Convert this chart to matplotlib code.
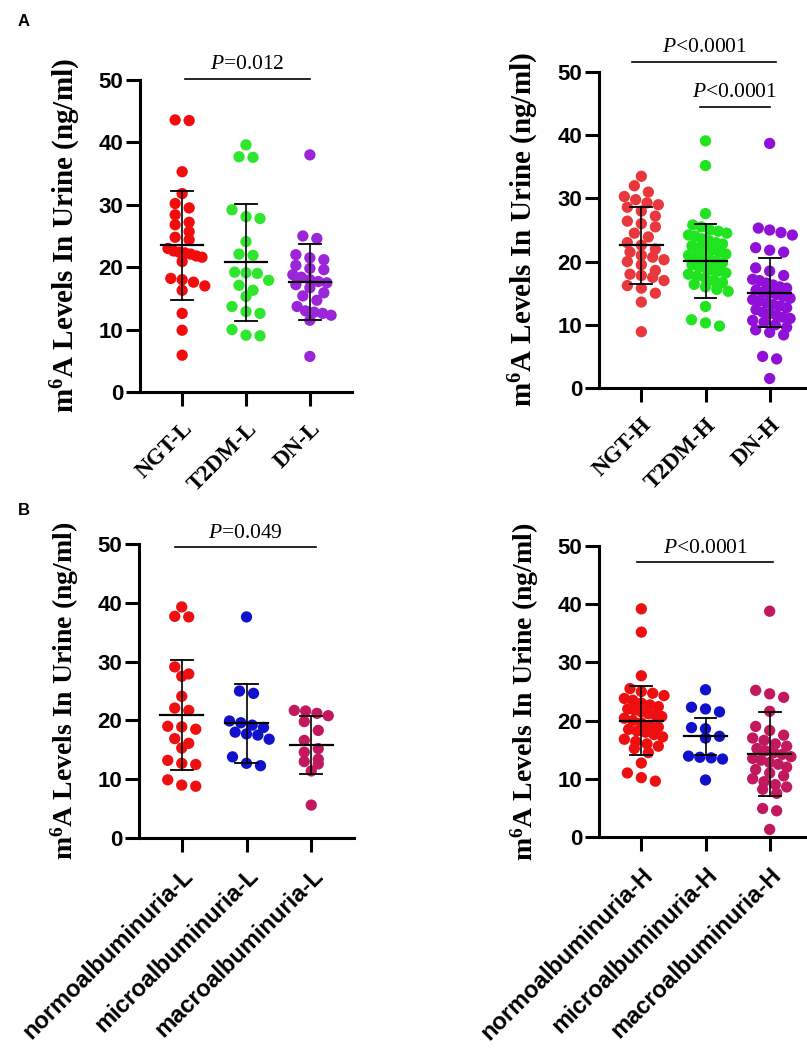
import numpy as np
import matplotlib
matplotlib.use('Agg')
import matplotlib.pyplot as plt

# m6A levels in urine (ng/ml)
# --- panel A, left: low group
A_L_LABELS = ['NGT-L', 'T2DM-L', 'DN-L']
NGT_L = [43.6, 43.5, 35.3, 31.8, 30.2, 29.5, 28.4, 27.2, 26.8, 25.7, 24.8, 24.4,
         23.0, 22.6, 22.4, 22.3, 22.1, 21.8, 21.6, 20.9, 18.2, 18.0, 17.6, 17.0,
         16.3, 12.6, 9.9, 5.9]
T2DM_L = [39.6, 37.7, 37.6, 29.2, 28.1, 27.8, 24.1, 22.1, 21.9, 19.2, 19.1, 19.0,
          17.9, 17.1, 16.3, 15.3, 13.7, 12.9, 12.6, 10.0, 9.1, 9.0]
DN_L = [38.0, 25.0, 24.6, 22.0, 21.5, 21.2, 20.3, 19.8, 19.6, 18.8, 18.4, 18.0,
        17.7, 17.5, 17.2, 16.7, 15.9, 15.4, 14.7, 13.7, 13.0, 12.8, 12.6, 12.3,
        11.5, 5.7]
A_L_MEAN = [23.5, 20.8, 17.6]
A_L_SD = [8.7, 9.4, 6.1]

# --- panel A, right: high group
A_H_LABELS = ['NGT-H', 'T2DM-H', 'DN-H']
NGT_H = [33.5, 32.0, 31.0, 30.3, 29.8, 29.3, 29.0, 28.6, 28.0, 27.2, 26.4, 26.0,
         25.5, 24.5, 23.9, 23.0, 22.6, 22.0, 21.5, 21.0, 20.7, 20.3, 20.0, 19.5,
         18.6, 18.0, 17.8, 17.5, 17.0, 16.2, 15.8, 15.0, 13.6, 8.9]
T2DM_H = [39.1, 35.2, 27.6, 25.8, 25.5, 25.0, 24.8, 24.5, 24.2, 24.0, 23.6, 23.3,
          23.0, 22.8, 22.5, 22.2, 22.0, 21.8, 21.5, 21.2, 21.0, 20.8, 20.5, 20.3,
          20.0, 19.8, 19.5, 19.2, 19.0, 18.7, 18.5, 18.2, 18.0, 17.7, 17.4, 17.0,
          16.7, 16.4, 16.0, 15.6, 15.3, 12.9, 10.8, 10.3, 9.8]
DN_H = [38.7, 25.3, 25.0, 24.6, 24.2, 22.2, 21.8, 21.5, 19.0, 18.5, 17.8, 17.2,
        17.0, 16.6, 16.3, 16.0, 15.8, 15.5, 15.2, 15.0, 14.8, 14.5, 14.2, 14.0,
        13.8, 13.5, 13.2, 13.0, 12.7, 12.4, 12.0, 11.8, 11.5, 11.2, 11.0, 10.7,
        10.4, 10.0, 9.6, 9.2, 8.8, 8.4, 5.0, 4.6, 1.5]
A_H_MEAN = [22.6, 20.1, 15.1]
A_H_SD = [6.1, 5.8, 5.5]

# --- panel B, left
B_L_LABELS = ['normoalbuminuria-L', 'microalbuminuria-L', 'macroalbuminuria-L']
NORMO_L = [39.3, 37.7, 37.6, 29.1, 27.9, 27.5, 24.1, 22.1, 21.7, 19.0, 18.9, 18.5,
           16.9, 16.1, 15.3, 13.2, 12.7, 12.5, 9.9, 9.0, 8.8]
MICRO_L = [37.6, 25.0, 24.6, 19.9, 19.6, 19.2, 18.8, 18.0, 17.7, 17.5, 16.8, 13.8,
           12.7, 12.3]
MACRO_L = [21.7, 21.6, 21.2, 20.8, 19.8, 18.3, 16.6, 15.2, 14.6, 13.4, 13.0, 12.6,
           11.4, 5.6]
B_L_MEAN = [20.9, 19.5, 15.8]
B_L_SD = [9.4, 6.7, 4.9]

# --- panel B, right
B_H_LABELS = ['normoalbuminuria-H', 'microalbuminuria-H', 'macroalbuminuria-H']
NORMO_H = [39.2, 35.2, 27.7, 25.5, 25.0, 24.7, 24.3, 23.8, 23.5, 23.0, 22.7, 22.4,
           22.0, 21.8, 21.5, 21.2, 21.0, 20.7, 20.4, 20.0, 19.6, 19.2, 18.9, 18.5,
           18.2, 18.0, 17.6, 17.2, 16.8, 16.4, 16.0, 15.6, 15.2, 14.5, 12.7, 11.0,
           10.2, 9.6]
MICRO_H = [25.3, 22.3, 22.0, 21.5, 18.8, 18.6, 17.3, 17.0, 13.9, 13.7, 13.6, 13.4, 9.8]
MACRO_H = [38.8, 25.2, 24.6, 24.0, 21.6, 19.0, 18.3, 17.5, 17.0, 16.6, 16.0, 15.6,
           15.2, 14.8, 14.5, 14.2, 13.8, 13.5, 13.2, 12.8, 12.5, 12.0, 11.6, 11.0,
           10.5, 10.0, 9.5, 9.0, 8.6, 8.2, 7.5, 4.9, 4.5, 1.3]
B_H_MEAN = [20.0, 17.3, 14.3]
B_H_SD = [5.9, 3.2, 7.2]

# comparison bars: (group from, group to, bar height, text)
A_L_PVALS = [(0.05, 2.0, 50.2, '$P$=0.012')]
A_H_PVALS = [(-0.14, 2.1, 51.6, '$P$<0.0001'), (0.91, 2.0, 44.5, '$P$<0.0001')]
B_L_PVALS = [(-0.1, 2.08, 49.5, '$P$=0.049')]
B_H_PVALS = [(-0.06, 2.05, 47.3, '$P$<0.0001')]

W, H = 807, 1059
YLABEL = 'm$^{6}$A Levels In Urine (ng/ml)'

plt.rcParams['mathtext.fontset'] = 'custom'
plt.rcParams['mathtext.rm'] = 'Liberation Serif:bold'
plt.rcParams['mathtext.bf'] = 'Liberation Serif:bold'
plt.rcParams['mathtext.it'] = 'Liberation Serif:italic'


def row_offsets(values, ppx, ppy, row_px=9.0, dx_px=14.0, max_px=34.0):
    """prism-like scatter: points close in value share a row, spread sideways"""
    values = np.asarray(values, dtype=float)
    order = np.argsort(values)[::-1]
    offs = np.zeros(len(values))
    rows = []
    for i in order:
        if rows and (values[rows[-1][0]] - values[i]) * ppy < row_px:
            rows[-1].append(i)
        else:
            rows.append([i])
    for k, row in enumerate(rows):
        n = len(row)
        if n == 1:
            continue
        dx = min(dx_px, max_px / (n - 1))
        # stagger crowded rows a little so they do not form a grid
        shift = 0.5 * dx if (n > 3 and k % 2) else 0.0
        for j, i in enumerate(row):
            offs[i] = ((j - (n - 1) / 2) * dx + shift) / ppx
    return offs


def panel(fig, box, groups, labels, means, sds, colors, pvals, tickfont, ylsize):
    left, top, right, bottom = box
    ax = fig.add_axes([left / W, 1 - bottom / H, (right - left) / W, (bottom - top) / H])
    ax.set_xlim(-0.66, 2.66)
    ax.set_ylim(0, 50)
    ppx = (right - left) / 3.32
    ppy = (bottom - top) / 50.0

    for i, (vals, c) in enumerate(zip(groups, colors)):
        off = row_offsets(vals, ppx, ppy)
        ax.scatter(i + off, vals, s=66, color=c, edgecolors='none', zorder=3,
                   clip_on=False)
        m, s = means[i], sds[i]
        ax.plot([i - 0.33, i + 0.33], [m, m], color='k', lw=1.6, zorder=4)
        ax.plot([i, i], [m - s, m + s], color='k', lw=1.2, zorder=4)
        for yy in (m - s, m + s):
            ax.plot([i - 0.17, i + 0.17], [yy, yy], color='k', lw=1.3, zorder=4)

    for x0, x1, yb, txt in pvals:
        ax.plot([x0, x1], [yb, yb], color='k', lw=1.2, clip_on=False)
        ax.text((x0 + x1) / 2, yb + 2.3, txt, ha='center', va='center',
                fontsize=15.5, family='Liberation Serif', clip_on=False)

    for sp in ['top', 'right']:
        ax.spines[sp].set_visible(False)
    for sp in ['left', 'bottom']:
        ax.spines[sp].set_linewidth(2.2)
    ax.set_yticks(range(0, 51, 10))
    ax.set_xticks(range(3))
    ax.tick_params(axis='both', length=10, width=2.2)
    ax.tick_params(axis='y', pad=2)
    ax.tick_params(axis='x', pad=9)
    for t in ax.get_yticklabels():
        t.set_fontsize(16)
        t.set_fontweight('bold')
        t.set_family('Liberation Sans')
    ax.set_xticklabels(labels, rotation=45, ha='right', rotation_mode='anchor',
                       **tickfont)
    ax.set_ylabel(YLABEL, fontsize=ylsize, fontweight='bold', family='Liberation Serif')
    ax.yaxis.set_label_coords(-0.27, 0.5)
    return ax


def main():
    fig = plt.figure(figsize=(W / 100, H / 100), dpi=100)
    serif = dict(fontsize=16.5, fontweight='bold', family='Liberation Serif')
    sans = dict(fontsize=17, fontweight='bold', family='Liberation Sans')

    panel(fig, (140, 80, 352, 392), [NGT_L, T2DM_L, DN_L], A_L_LABELS,
          A_L_MEAN, A_L_SD, ['#f20c0c', '#2ee62e', '#9b26d9'], A_L_PVALS, serif, 21)
    panel(fig, (599, 72, 812, 388), [NGT_H, T2DM_H, DN_H], A_H_LABELS,
          A_H_MEAN, A_H_SD, ['#e8383d', '#1fe41f', '#9010d8'], A_H_PVALS, serif, 21)
    panel(fig, (139, 544, 354, 838), [NORMO_L, MICRO_L, MACRO_L], B_L_LABELS,
          B_L_MEAN, B_L_SD, ['#ee1010', '#1111cc', '#c2185e'], B_L_PVALS, sans, 20)
    panel(fig, (599, 546, 812, 837), [NORMO_H, MICRO_H, MACRO_H], B_H_LABELS,
          B_H_MEAN, B_H_SD, ['#ee1010', '#1111cc', '#c2185e'], B_H_PVALS, sans, 20)

    fig.text(18 / W, 1 - 21 / H, 'A', fontsize=12, fontweight='bold',
             family='Liberation Sans', va='center')
    fig.text(18 / W, 1 - 510 / H, 'B', fontsize=12, fontweight='bold',
             family='Liberation Sans', va='center')

    fig.savefig('out.png', dpi=100)


if __name__ == '__main__':
    main()
